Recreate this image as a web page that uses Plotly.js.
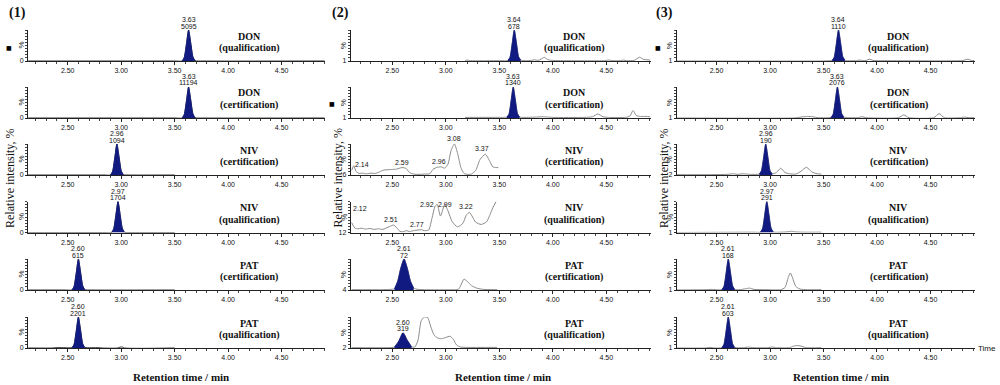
<!DOCTYPE html>
<html><head><meta charset="utf-8">
<script src="https://cdn.plot.ly/plotly-3.0.1.min.js"></script>
<style>html,body{margin:0;padding:0;background:#fff}#chart{width:1000px;height:385px}</style>
</head><body><div id="chart"></div>
<script>
// ---------------- DATA ----------------
const compounds = ['DON','DON','NIV','NIV','PAT','PAT'];
const modes = ['(qualification)','(certification)','(certification)','(qualification)','(certification)','(qualification)'];
const columnTags = ['(1)','(2)','(3)'];
const yBaseLabels1 = ['0','0','0','0','0','0'];
const yBaseLabels2 = ['1','1','6','12','4','2'];
const yBaseLabels3 = ['1','1','2','1','1','1'];

// Column (1)
const c1r1_t = [2.13, 3.50, 3.57, 3.59, 3.61, 3.63, 3.65, 3.67, 3.69, 3.76, 4.90];
const c1r1_y = [0, 0, 0, 12, 55, 100, 58, 14, 1, 0, 0];
const c1r2_t = [2.13, 3.50, 3.57, 3.59, 3.61, 3.63, 3.65, 3.67, 3.69, 3.76, 4.90];
const c1r2_y = [0, 0, 0, 12, 55, 100, 58, 14, 1, 0, 0];
const c1r3_t = [2.13, 2.84, 2.90, 2.92, 2.94, 2.96, 2.98, 3.00, 3.02, 3.08, 3.50];
const c1r3_y = [0, 0, 0, 12, 55, 100, 58, 14, 1, 0, 0];
const c1r4_t = [2.13, 2.85, 2.91, 2.93, 2.95, 2.97, 2.99, 3.01, 3.03, 3.09, 3.50];
const c1r4_y = [0, 0, 0, 12, 55, 100, 58, 14, 1, 0, 0];
const c1r5_t = [2.13, 2.48, 2.54, 2.56, 2.58, 2.60, 2.62, 2.64, 2.66, 2.72, 3.50];
const c1r5_y = [0, 0, 0, 12, 55, 100, 58, 14, 1, 0, 0];
const c1r6_t = [2.13, 2.36, 2.38, 2.50, 2.54, 2.56, 2.58, 2.60, 2.62, 2.64, 2.66, 2.72, 2.80, 2.82, 2.97, 2.99, 3.01, 3.03, 3.50];
const c1r6_y = [0, 0, 1, 1, 1, 12, 55, 100, 58, 14, 2, 1, 1, 0, 0, 3, 3, 0, 0];
const c1_peakWin = [[3.57, 3.69], [3.57, 3.69], [2.90, 3.02], [2.91, 3.03], [2.54, 2.66], [2.54, 2.66]];
const c1_peakRT = ['3.63', '3.63', '2.96', '2.97', '2.60', '2.60'];
const c1_peakArea = ['5095', '11194', '1094', '1704', '615', '2201'];

// Column (2)
const c2r1_t = [3.18, 3.20, 3.23, 3.50, 3.56, 3.58, 3.60, 3.62, 3.64, 3.66, 3.68, 3.70, 3.74, 3.80, 3.83, 3.86, 3.89, 3.92, 3.95, 3.99, 4.10, 4.48, 4.52, 4.56, 4.63, 4.66, 4.69, 4.76, 4.81, 4.85, 4.88, 4.91];
const c2r1_y = [1, 3, 1, 1, 1, 2, 12, 55, 100, 58, 14, 3, 1, 2, 4, 2, 6, 12, 5, 2, 1, 1, 3, 1, 1, 3, 1, 2, 12, 5, 4, 3];
const c2r2_t = [3.18, 3.30, 3.50, 3.55, 3.57, 3.59, 3.61, 3.63, 3.65, 3.67, 3.69, 3.73, 3.85, 3.90, 3.95, 4.00, 4.30, 4.37, 4.42, 4.47, 4.52, 4.68, 4.72, 4.75, 4.78, 4.82, 4.87, 4.91];
const c2r2_y = [2, 2, 2, 2, 3, 12, 55, 100, 58, 14, 3, 2, 3, 4, 3, 2, 2, 4, 13, 4, 2, 2, 6, 24, 8, 5, 5, 4];
const c2r3_t = [2.12, 2.14, 2.16, 2.19, 2.22, 2.26, 2.30, 2.34, 2.38, 2.42, 2.46, 2.50, 2.54, 2.59, 2.63, 2.66, 2.70, 2.75, 2.80, 2.85, 2.88, 2.92, 2.96, 2.99, 3.02, 3.05, 3.08, 3.11, 3.14, 3.17, 3.20, 3.24, 3.28, 3.32, 3.37, 3.41, 3.44, 3.47, 3.49];
const c2r3_y = [15, 30, 12, 5, 6, 4, 6, 5, 10, 16, 17, 18, 19, 24, 21, 8, 3, 2, 3, 4, 18, 25, 26, 22, 35, 80, 100, 70, 25, 5, 2, 3, 15, 50, 67, 45, 26, 24, 24];
const c2r4_t = [2.12, 2.15, 2.18, 2.21, 2.25, 2.29, 2.33, 2.37, 2.41, 2.44, 2.48, 2.51, 2.54, 2.57, 2.60, 2.63, 2.66, 2.70, 2.74, 2.77, 2.80, 2.84, 2.87, 2.90, 2.92, 2.95, 2.99, 3.02, 3.06, 3.11, 3.16, 3.19, 3.22, 3.25, 3.28, 3.33, 3.38, 3.41, 3.44, 3.47];
const c2r4_y = [32, 14, 12, 14, 11, 13, 10, 12, 10, 14, 20, 24, 16, 4, 2, 6, 3, 6, 8, 9, 6, 8, 45, 85, 90, 53, 90, 70, 35, 18, 30, 55, 65, 50, 33, 26, 34, 55, 80, 100];
const c2r5_t = [2.12, 2.40, 2.48, 2.52, 2.55, 2.58, 2.61, 2.64, 2.67, 2.70, 2.74, 2.80, 3.08, 3.12, 3.14, 3.17, 3.20, 3.24, 3.29, 3.35, 3.48];
const c2r5_y = [1, 1, 2, 4, 28, 72, 100, 70, 28, 6, 2, 1, 1, 3, 15, 35, 28, 14, 6, 2, 1];
const c2r6_t = [2.12, 2.45, 2.52, 2.56, 2.60, 2.64, 2.68, 2.71, 2.74, 2.77, 2.80, 2.83, 2.86, 2.89, 2.92, 2.96, 3.00, 3.04, 3.07, 3.10, 3.14, 3.20, 3.48];
const c2r6_y = [1, 1, 3, 22, 49, 25, 4, 3, 25, 88, 100, 98, 68, 42, 33, 30, 34, 38, 28, 10, 3, 2, 2];
const c2_peakWin = [[3.58, 3.70], [3.57, 3.69], null, null, [2.52, 2.70], [2.52, 2.68]];
const c2_peakRT = ['3.64', '3.63', null, null, '2.61', '2.60'];
const c2_peakArea = ['678', '1340', null, null, '72', '319'];
const c2r3_labelRT = [2.14, 2.59, 2.96, 3.08, 3.37];
const c2r4_labelRT = [2.12, 2.51, 2.77, 2.92, 2.99, 3.22];

// Column (3)
const c3r1_t = [2.13, 3.50, 3.55, 3.58, 3.60, 3.62, 3.64, 3.66, 3.68, 3.70, 3.73, 3.80, 3.84, 3.87, 3.90, 3.93, 3.96, 3.99, 4.05, 4.78, 4.82, 4.85, 4.88, 4.91];
const c3r1_y = [0, 0, 1, 2, 12, 55, 100, 58, 14, 3, 1, 1, 3, 1, 2, 6, 2, 1, 1, 1, 3, 6, 2, 1];
const c3r2_t = [2.13, 3.22, 3.27, 3.31, 3.35, 3.40, 3.45, 3.55, 3.57, 3.59, 3.61, 3.63, 3.65, 3.67, 3.69, 3.73, 3.82, 3.86, 3.90, 4.20, 4.25, 4.30, 4.53, 4.58, 4.63, 4.78, 4.82, 4.86, 4.91];
const c3r2_y = [0, 0, 2, 4, 5, 4, 1, 1, 2, 12, 55, 100, 58, 14, 3, 1, 1, 4, 1, 1, 10, 1, 1, 14, 1, 1, 3, 1, 1];
const c3r3_t = [2.13, 2.40, 2.60, 2.66, 2.70, 2.74, 2.78, 2.82, 2.86, 2.90, 2.92, 2.94, 2.96, 2.98, 3.00, 3.02, 3.06, 3.10, 3.14, 3.18, 3.24, 3.29, 3.34, 3.39, 3.44, 3.48];
const c3r3_y = [1, 1, 2, 4, 2, 4, 3, 2, 2, 3, 14, 55, 100, 58, 14, 4, 8, 22, 8, 4, 3, 12, 25, 10, 4, 3];
const c3r4_t = [2.13, 2.85, 2.91, 2.93, 2.95, 2.97, 2.99, 3.01, 3.03, 3.10, 3.16, 3.20, 3.24, 3.30, 3.48];
const c3r4_y = [0, 1, 1, 12, 55, 100, 58, 14, 2, 1, 2, 4, 2, 1, 1];
const c3r5_t = [2.13, 2.40, 2.45, 2.50, 2.55, 2.57, 2.59, 2.61, 2.63, 2.65, 2.67, 2.72, 2.77, 2.81, 2.85, 2.95, 3.10, 3.14, 3.17, 3.19, 3.21, 3.24, 3.28, 3.35, 3.48];
const c3r5_y = [0, 1, 2, 1, 1, 12, 55, 100, 58, 14, 2, 1, 4, 6, 2, 1, 1, 8, 40, 55, 40, 12, 3, 1, 1];
const c3r6_t = [2.13, 2.40, 2.44, 2.48, 2.55, 2.57, 2.59, 2.61, 2.63, 2.65, 2.67, 2.75, 2.80, 2.85, 2.98, 3.02, 3.06, 3.18, 3.22, 3.26, 3.30, 3.34, 3.48];
const c3r6_y = [0, 0, 2, 0, 1, 12, 55, 100, 58, 14, 2, 1, 3, 1, 1, 3, 1, 1, 6, 8, 5, 1, 1];
const c3_peakWin = [[3.58, 3.70], [3.57, 3.69], [2.90, 3.02], [2.91, 3.03], [2.55, 2.67], [2.55, 2.67]];
const c3_peakRT = ['3.64', '3.63', '2.96', '2.97', '2.61', '2.61'];
const c3_peakArea = ['1110', '2076', '190', '291', '168', '603'];

// ---------------- STYLE / LAYOUT ----------------
const W = 1000, H = 385;
const px = v => v / W;
const py = v => 1 - v / H;
const colPx = [[28, 325], [350.7, 650.7], [676.7, 975]];
const colRange = [[2.129, 4.905], [2.111, 4.915], [2.128, 4.916]];
const rowBase = [61, 118, 175, 232.5, 290, 348];
const rowH = 31;
const NAVY = '#101a80';
const SANS = 'Liberation Sans';
const SERIF = 'Liberation Serif';
const lineColors = ['#333333', '#8a8a8a', '#8a8a8a'];
const markerPanels = [[0, 0], [1, 1], [2, 0]];
const nivLabelShift = {
  r3: {dx: [8, 0, -3, 0, -3], dy: [-4, 0, 0, 0, 0]},
  r4: {dx: [8, -2, -4, -10, 0, -3], dy: [9, 0, 0, -5, -5, 0]}
};

const columns = [
  {t: [c1r1_t, c1r2_t, c1r3_t, c1r4_t, c1r5_t, c1r6_t], y: [c1r1_y, c1r2_y, c1r3_y, c1r4_y, c1r5_y, c1r6_y], win: c1_peakWin, rt: c1_peakRT, area: c1_peakArea, ylab: yBaseLabels1},
  {t: [c2r1_t, c2r2_t, c2r3_t, c2r4_t, c2r5_t, c2r6_t], y: [c2r1_y, c2r2_y, c2r3_y, c2r4_y, c2r5_y, c2r6_y], win: c2_peakWin, rt: c2_peakRT, area: c2_peakArea, ylab: yBaseLabels2},
  {t: [c3r1_t, c3r2_t, c3r3_t, c3r4_t, c3r5_t, c3r6_t], y: [c3r1_y, c3r2_y, c3r3_y, c3r4_y, c3r5_y, c3r6_y], win: c3_peakWin, rt: c3_peakRT, area: c3_peakArea, ylab: yBaseLabels3}
];

function valueAt(ts, ys, t) {
  let best = 0;
  for (let i = 1; i < ts.length; i++) if (Math.abs(ts[i] - t) < Math.abs(ts[best] - t)) best = i;
  return ys[best];
}

const traces = [];
const annotations = [];
const layout = {
  width: W, height: H, margin: {l: 0, r: 0, t: 0, b: 0},
  paper_bgcolor: '#ffffff', plot_bgcolor: 'rgba(0,0,0,0)', showlegend: false,
  font: {family: SANS, color: '#111'}
};
function note(xp, yp, text, font, extra) {
  annotations.push(Object.assign({xref: 'paper', yref: 'paper', x: px(xp), y: py(yp), xanchor: 'center', yanchor: 'middle',
    showarrow: false, text: text, font: font}, extra || {}));
}
const tickFont = {family: SANS, size: 7, color: '#111'};
const labelFont = {family: SERIF, size: 10, color: '#111', weight: 'bold'};

for (let c = 0; c < 3; c++) {
  const col = columns[c];
  const [x0, x1] = colPx[c];
  for (let r = 0; r < 6; r++) {
    const k = c * 6 + r + 1;
    const xa = k === 1 ? 'x' : 'x' + k;
    const ya = k === 1 ? 'y' : 'y' + k;
    const base = rowBase[r];
    layout[k === 1 ? 'xaxis' : 'xaxis' + k] = {
      domain: [px(x0), px(x1)], range: colRange[c], anchor: ya,
      showline: true, linecolor: '#222', linewidth: 1, zeroline: false, showgrid: false,
      ticks: 'outside', ticklen: 3, tickwidth: 1, tickcolor: '#222',
      tickmode: 'linear', tick0: 0, dtick: 0.5, tickformat: '.2f',
      tickfont: tickFont,
      minor: {ticks: 'outside', ticklen: 2, tickmode: 'linear', tick0: 0, dtick: 0.1, tickcolor: '#444', tickwidth: 1, showgrid: false},
      fixedrange: true
    };
    layout[k === 1 ? 'yaxis' : 'yaxis' + k] = {
      domain: [py(base), py(base - rowH)], range: [0, 100], anchor: xa,
      showline: true, linecolor: '#222', linewidth: 1, zeroline: false, showgrid: false,
      ticks: 'outside', ticklen: 2, tickcolor: '#222',
      tickmode: 'array', tickvals: [0], ticktext: [col.ylab[r]],
      tickfont: tickFont,
      minor: {ticks: 'outside', ticklen: 2, tickmode: 'linear', tick0: 0, dtick: 10, tickcolor: '#444', showgrid: false},
      fixedrange: true
    };
    const ts = col.t[r], ys = col.y[r];
    traces.push({x: ts, y: ys, xaxis: xa, yaxis: ya, mode: 'lines', hoverinfo: 'skip',
      line: {color: lineColors[c], width: 1, shape: 'spline', smoothing: 0.6}});
    const win = col.win[r];
    if (win) {
      const fx = [], fy = [];
      ts.forEach((t, i) => { if (t >= win[0] - 1e-9 && t <= win[1] + 1e-9) { fx.push(t); fy.push(ys[i]); } });
      traces.push({x: fx, y: fy, xaxis: xa, yaxis: ya, mode: 'lines', fill: 'tozeroy', fillcolor: NAVY, hoverinfo: 'skip',
        line: {color: NAVY, width: 0.8, shape: 'spline', smoothing: 0.6}});
      const rtNum = parseFloat(col.rt[r]);
      const top = Math.max(...fy);
      annotations.push({xref: xa, yref: ya, x: rtNum, y: top, xanchor: 'center', yanchor: 'bottom', yshift: -1.5, showarrow: false,
        text: col.area[r], font: tickFont});
      annotations.push({xref: xa, yref: ya, x: rtNum, y: top, xanchor: 'center', yanchor: 'bottom', yshift: 5, showarrow: false,
        text: col.rt[r], font: tickFont});
    }
    const lx = x0 + 0.745 * (x1 - x0);
    note(lx, base - 25, compounds[r], labelFont);
    note(lx, base - 13, modes[r], labelFont);
    note(x0 - 7, base - rowH / 2, '%', {family: SANS, size: 8, color: '#111'}, {textangle: -90});
  }
  note([17, 340, 664][c], 13, columnTags[c], {family: SERIF, size: 14, color: '#111', weight: 'bold'});
  note([10, 337.5, 664][c], 178, 'Relative intensity, %', {family: SERIF, size: 12, color: '#111'}, {textangle: -90});
  note([181, 503, 841][c], 377, 'Retention time / min', {family: SERIF, size: 11, color: '#111', weight: 'bold'});
  const mp = markerPanels[c];
  note(colPx[c][0] - 19, rowBase[mp[1]] - 14, '■', {family: 'DejaVu Sans', size: 6, color: '#000'});
}

// column (2) NIV multi-peak labels
[[c2r3_labelRT, 2, nivLabelShift.r3, c2r3_t, c2r3_y], [c2r4_labelRT, 3, nivLabelShift.r4, c2r4_t, c2r4_y]].forEach(([labs, r, sh, ts, ys]) => {
  const k = 6 + r + 1;
  labs.forEach((t, i) => {
    annotations.push({xref: 'x' + k, yref: 'y' + k, x: t, y: valueAt(ts, ys, t), xanchor: 'center', yanchor: 'bottom', showarrow: false,
      xshift: sh.dx[i], yshift: sh.dy[i], text: t.toFixed(2), font: tickFont});
  });
});

note(987, 348, 'Time', {family: SANS, size: 8, color: '#111'});

layout.annotations = annotations;
Plotly.newPlot('chart', traces, layout, {staticPlot: true, displayModeBar: false});
</script>
</body></html>
